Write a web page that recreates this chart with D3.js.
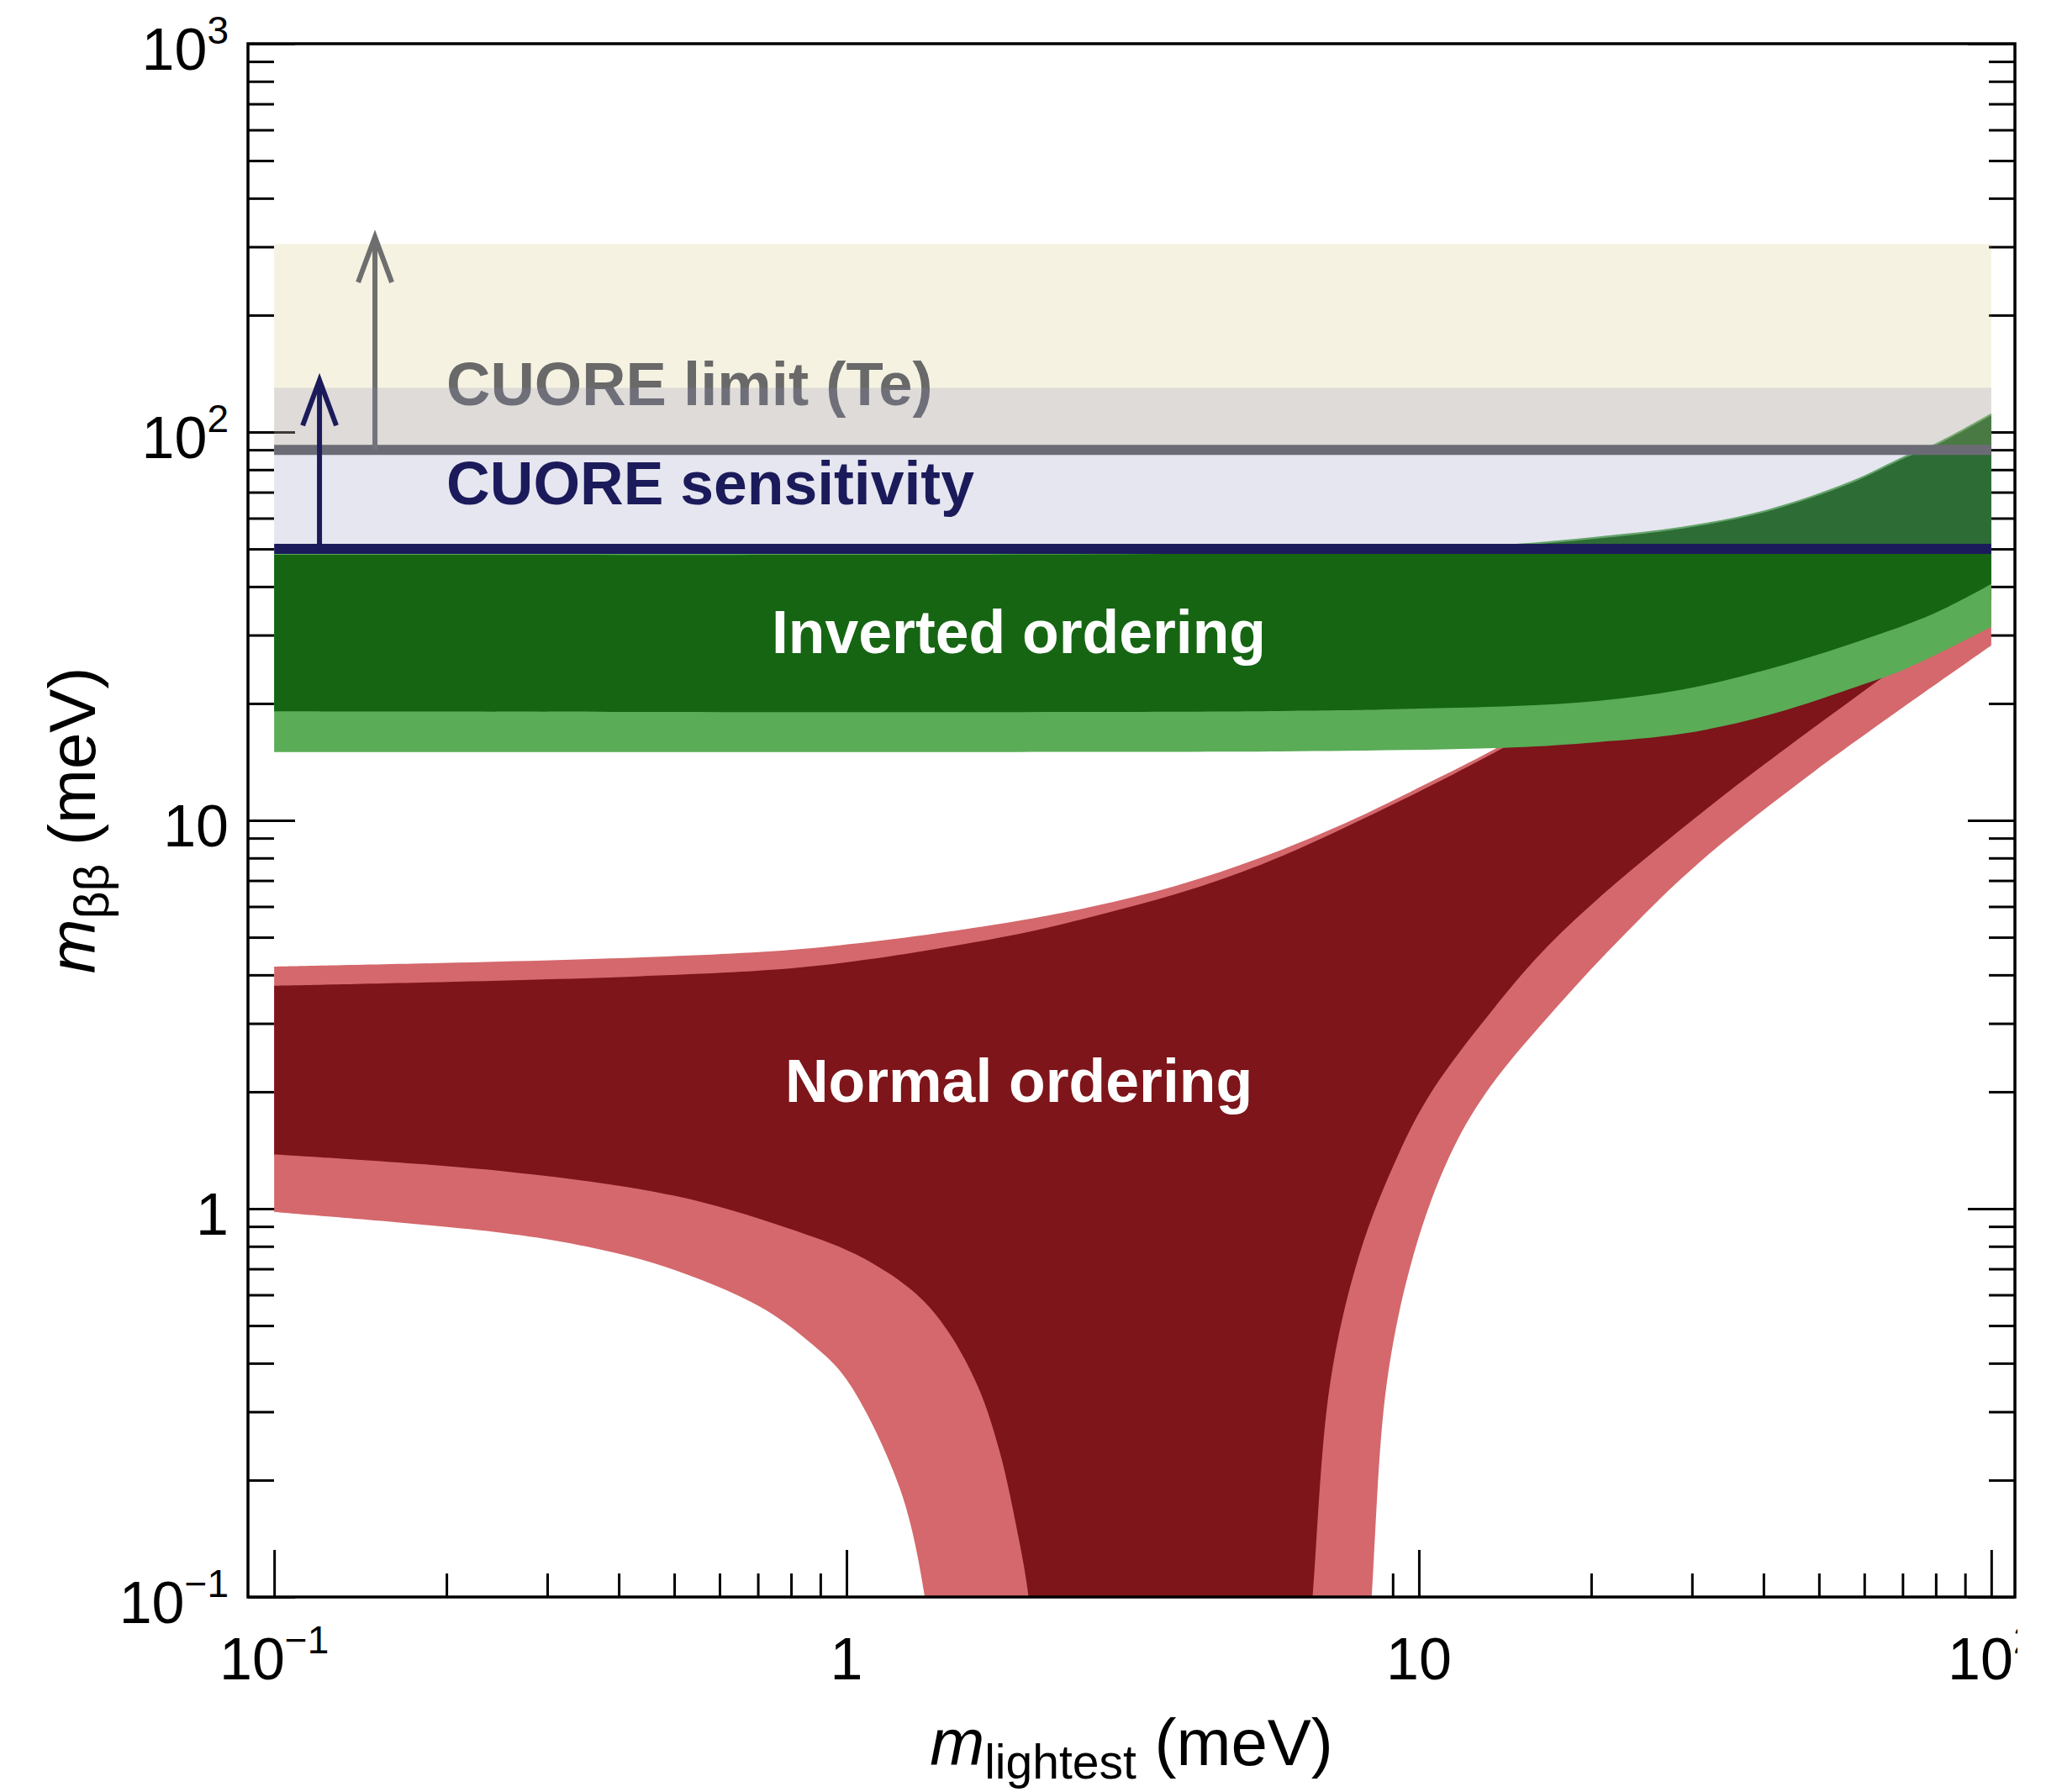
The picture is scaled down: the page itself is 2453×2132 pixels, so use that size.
<!DOCTYPE html>
<html>
<head>
<meta charset="utf-8">
<script src="https://cdn.jsdelivr.net/npm/d3@7"></script>
<style>
  body { margin: 0; background: #fff; }
  text { font-family: "Liberation Sans", Arial, Helvetica, sans-serif; }
</style>
</head>
<body>
<div id="chart"></div>
<script>
// values, [m_lightest, m_bb] in meV
// normal ordering, wide (light) band
var noOuterUpper = [[0.1, 4.2], [0.46, 4.45], [0.91, 4.72], [1.92, 5.46], [2.7, 6.01], [3.78, 6.8],
    [5.31, 8.03], [7.44, 9.84], [10.4, 12.5], [13.5, 15.2], [20.5, 21.5], [30.8, 31.5], [50, 50.5], [100, 100]];
var noOuterLower = [[0.1, 0.98], [0.25, 0.867], [0.35, 0.8], [0.48, 0.71], [0.7, 0.563], [0.87, 0.448],
    [1.0, 0.363], [1.24, 0.19], [1.37, 0.1], [1.42, 0.06],
    [8.1, 0.06], [8.27, 0.1], [8.79, 0.356], [9.8, 0.766], [11.3, 1.36], [13.1, 1.99], [17.3, 3.27],
    [23, 5.13], [30.8, 7.76], [49.2, 13.4], [100, 28.2]];
// normal ordering, narrow (dark) band
var noInnerUpper = [[0.1, 3.75], [0.46, 3.98], [0.91, 4.24], [1.92, 5.04], [2.7, 5.66], [3.78, 6.47],
    [5.31, 7.7], [7.44, 9.6], [10.4, 12.2], [13.5, 14.9], [20.5, 20.8], [30.8, 30.8], [50, 49.5], [100, 98]];
var noInnerLower = [[0.1, 1.38], [0.25, 1.25], [0.5, 1.08], [0.78, 0.896], [1.05, 0.756], [1.32, 0.605],
    [1.5, 0.486], [1.7, 0.346], [1.85, 0.238], [1.98, 0.152], [2.08, 0.1], [2.13, 0.06],
    [6.35, 0.06], [6.52, 0.1], [7.0, 0.356], [7.88, 0.766], [9.21, 1.38], [10.5, 1.99], [13.5, 3.27],
    [16.4, 4.57], [20.5, 6.26], [30.8, 10.3], [39, 13.5], [67.8, 24.6], [100, 37]];
// inverted ordering
var ioOuterUpper = [[0.1, 48.8], [1, 48.8], [5, 49.2], [10, 50.3], [14.6, 51.5], [20.5, 53.8], [28.8, 57.0],
    [40.4, 63.0], [56.6, 74.5], [71, 87.1], [79.5, 93.1], [100, 111.7]];
var ioOuterLower = [[0.1, 15.0], [2, 15.0], [7.4, 15.1], [14.6, 15.4], [20.5, 15.9], [28.8, 16.7], [40.4, 18.6],
    [56.6, 21.8], [71, 24.6], [100, 31.5]];
var ioInnerUpper = [[0.1, 48.3], [1, 48.3], [5, 48.7], [10, 49.8], [14.6, 51.0], [20.5, 53.2], [28.8, 56.4],
    [40.4, 62.3], [56.6, 73.6], [71, 86.0], [79.5, 92.0], [100, 110.4]];
var ioInnerLower = [[0.1, 19.1], [2, 19.0], [7.4, 19.2], [10, 19.4], [14.6, 19.7], [20.5, 20.3], [28.8, 21.7],
    [40.4, 24.4], [56.6, 28.4], [79.5, 34.1], [100, 40.6]];

// CUORE
var bandRange = [0.1, 100];
var limitBand = [90, 305];
var sensBand = [50, 130];
var limitArrow = [0.15, 90, 318];   // x, from, to
var sensArrow = [0.12, 50, 136];
var cuoreNames = ["CUORE limit (Te)", "CUORE sensitivity"];
var orderingNames = ["Inverted ordering", "Normal ordering"];

// ticks
var xMajor = [0.1, 1, 10, 100];
var xTickLabels = [["10", "\u22121"], ["1", ""], ["10", ""], ["10", "2"]];
var yMajor = [0.1, 1, 10, 100, 1000];
var yTickLabels = [["10", "\u22121"], ["1", ""], ["10", ""], ["10", "2"], ["10", "3"]];

var width = 2453, height = 2132;
var frame = {left: 295, right: 2397, top: 52, bottom: 1900};

var svg = d3.select("#chart").append("svg")
        .attr("width", width)
        .attr("height", height);

svg.append("rect").attr("width", width).attr("height", height).attr("fill", "#fff");

var defs = svg.append("defs");
defs.append("clipPath").attr("id", "plotClip").append("rect")
        .attr("x", frame.left).attr("y", frame.top)
        .attr("width", frame.right - frame.left).attr("height", frame.bottom - frame.top);
defs.append("clipPath").attr("id", "labelClip").append("rect")
        .attr("x", 0).attr("y", 0)
        .attr("width", 2400).attr("height", height);

var x = d3.scaleLog().domain([0.09, 110]).range([frame.left, frame.right]);
var y = d3.scaleLog().domain([0.1, 1000]).range([frame.bottom, frame.top]);

function isMajor(d) {
    var l = Math.log10(d);
    return Math.abs(l - Math.round(l)) < 1e-6;
}
var xMinor = x.ticks().filter(function (d) { return d >= 0.1 && d <= 100 && !isMajor(d); });
var yMinor = y.ticks().filter(function (d) { return !isMajor(d); });

function styleTicks(g) {
    g.select(".domain").remove();
    g.selectAll("line").attr("stroke", "#000").attr("stroke-width", 3);
}

// ticks (drawn under the bands)
var axes = svg.append("g").attr("id", "axes");
axes.append("g").attr("transform", "translate(0," + frame.bottom + ")")
        .call(d3.axisBottom(x).tickValues(xMinor).tickSize(-28).tickFormat("")).call(styleTicks);
axes.append("g").attr("transform", "translate(0," + frame.bottom + ")")
        .call(d3.axisBottom(x).tickValues(xMajor).tickSize(-56).tickFormat("")).call(styleTicks);
axes.append("g").attr("transform", "translate(" + frame.left + ",0)")
        .call(d3.axisLeft(y).tickValues(yMinor).tickSize(-31).tickFormat("")).call(styleTicks);
axes.append("g").attr("transform", "translate(" + frame.left + ",0)")
        .call(d3.axisLeft(y).tickValues(yMajor).tickSize(-56).tickFormat("")).call(styleTicks);
axes.append("g").attr("transform", "translate(" + frame.right + ",0)")
        .call(d3.axisRight(y).tickValues(yMinor).tickSize(-31).tickFormat("")).call(styleTicks);
axes.append("g").attr("transform", "translate(" + frame.right + ",0)")
        .call(d3.axisRight(y).tickValues(yMajor).tickSize(-56).tickFormat("")).call(styleTicks);

function powerLabel(sel, labels) {
    sel.each(function (d, i) {
        var t = d3.select(this);
        t.append("tspan").text(labels[i][0]);
        if (labels[i][1]) {
            t.append("tspan").attr("dy", -31).style("font-size", "46px").text(labels[i][1]);
        }
    });
}

axes.append("g").attr("clip-path", "url(#labelClip)")
        .selectAll("text").data(xMajor).enter().append("text")
        .attr("x", function (d) { return x(d); })
        .attr("y", 1998)
        .attr("text-anchor", "middle")
        .style("font-size", "70px")
        .call(powerLabel, xTickLabels);
axes.append("g")
        .selectAll("text").data(yMajor).enter().append("text")
        .attr("x", 272)
        .attr("y", function (d) { return y(d) + 31; })
        .attr("text-anchor", "end")
        .style("font-size", "70px")
        .call(powerLabel, yTickLabels);

// axis titles
var xt = svg.append("text")
        .attr("x", (frame.left + frame.right) / 2).attr("y", 2100)
        .attr("text-anchor", "middle").style("font-size", "78px");
xt.append("tspan").style("font-style", "italic").text("m");
xt.append("tspan").attr("dy", 16).style("font-size", "57px").text("lightest");
xt.append("tspan").attr("dy", -16).text(" (meV)");

var yt = svg.append("text")
        .attr("transform", "translate(113," + (frame.top + frame.bottom) / 2 + ") rotate(-90)")
        .attr("text-anchor", "middle").style("font-size", "78px");
yt.append("tspan").style("font-style", "italic").text("m");
yt.append("tspan").attr("dy", 16).style("font-size", "57px").text("\u03b2\u03b2");
yt.append("tspan").attr("dy", -16).text(" (meV)");

// bands
var plot = svg.append("g").attr("clip-path", "url(#plotClip)");

var edge = d3.line()
        .x(function (d) { return x(d[0]); })
        .y(function (d) { return y(d[1]); })
        .curve(d3.curveCatmullRom.alpha(0.5));

function bandPath(upper, lower) {
    var up = edge(upper);
    var down = edge(lower.slice().reverse());
    return up + "L" + down.slice(1) + "Z";
}

plot.append("path").attr("d", bandPath(noOuterUpper, noOuterLower)).attr("fill", "#d4686c");
plot.append("path").attr("d", bandPath(noInnerUpper, noInnerLower)).attr("fill", "#7d151a");
plot.append("path").attr("d", bandPath(ioOuterUpper, ioOuterLower)).attr("fill", "#5aac57");
plot.append("path").attr("d", bandPath(ioInnerUpper, ioInnerLower)).attr("fill", "#166513");

// CUORE limit band, line, arrow, text
plot.append("rect")
        .attr("x", x(bandRange[0])).attr("width", x(bandRange[1]) - x(bandRange[0]))
        .attr("y", y(limitBand[1])).attr("height", y(limitBand[0]) - y(limitBand[1]))
        .attr("fill", "rgb(205,190,105)").attr("fill-opacity", 0.2);

function arrow(g, a, color) {
    var ax = x(a[0]), y0 = y(a[1]), y1 = y(a[2]);
    g.append("line").attr("x1", ax).attr("x2", ax).attr("y1", y0).attr("y2", y1 + 5)
            .attr("stroke", color).attr("stroke-width", 6);
    g.append("path")
            .attr("d", "M" + (ax - 20) + "," + (y1 + 54) + "L" + ax + "," + y1 + "L" + (ax + 20) + "," + (y1 + 54))
            .attr("fill", "none").attr("stroke", color).attr("stroke-width", 6)
            .attr("stroke-linejoin", "miter");
}

plot.append("line")
        .attr("x1", x(bandRange[0])).attr("x2", x(bandRange[1]))
        .attr("y1", y(limitBand[0])).attr("y2", y(limitBand[0]))
        .attr("stroke", "#646464").attr("stroke-width", 12);
arrow(plot, limitArrow, "#6e6e6e");
plot.append("text")
        .attr("x", x(0.2)).attr("y", y(117))
        .style("font-size", "72.5px").style("font-weight", "bold")
        .attr("fill", "#696969")
        .text(cuoreNames[0]);

// CUORE sensitivity band, line, arrow, text
plot.append("rect")
        .attr("x", x(bandRange[0])).attr("width", x(bandRange[1]) - x(bandRange[0]))
        .attr("y", y(sensBand[1])).attr("height", y(sensBand[0]) - y(sensBand[1]))
        .attr("fill", "rgb(136,136,184)").attr("fill-opacity", 0.21);
plot.append("line")
        .attr("x1", x(bandRange[0])).attr("x2", x(bandRange[1]))
        .attr("y1", y(sensBand[0])).attr("y2", y(sensBand[0]))
        .attr("stroke", "#1b1b5b").attr("stroke-width", 12);
arrow(plot, sensArrow, "#1b1b5b");
plot.append("text")
        .attr("x", x(0.2)).attr("y", y(65.2))
        .style("font-size", "71.5px").style("font-weight", "bold")
        .attr("fill", "#1b1b5b")
        .text(cuoreNames[1]);

// ordering labels
plot.append("text")
        .attr("x", x(2.0)).attr("y", y(26.9))
        .attr("text-anchor", "middle")
        .style("font-size", "71.5px").style("font-weight", "bold")
        .attr("fill", "#fff")
        .text(orderingNames[0]);
plot.append("text")
        .attr("x", x(2.0)).attr("y", y(1.88))
        .attr("text-anchor", "middle")
        .style("font-size", "71.5px").style("font-weight", "bold")
        .attr("fill", "#fff")
        .text(orderingNames[1]);

// frame on top
svg.append("rect")
        .attr("x", frame.left).attr("y", frame.top)
        .attr("width", frame.right - frame.left).attr("height", frame.bottom - frame.top)
        .attr("fill", "none").attr("stroke", "#000").attr("stroke-width", 3.5);
</script>
</body>
</html>
